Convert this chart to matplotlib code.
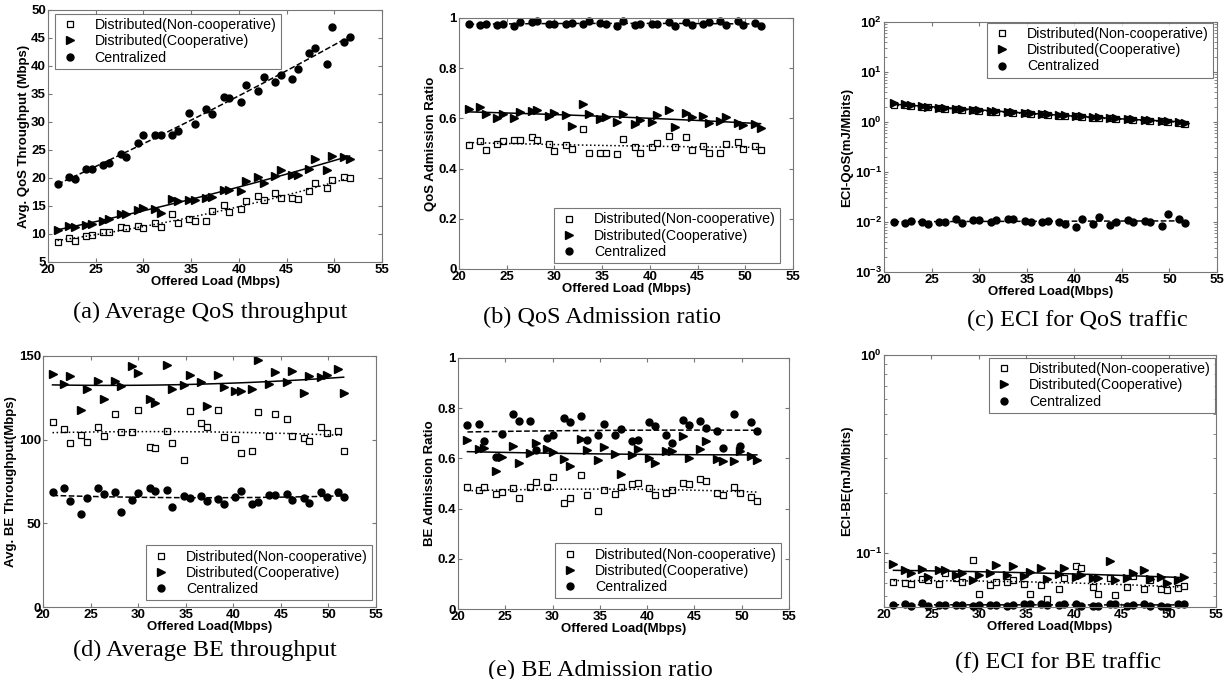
import numpy as np
import matplotlib
matplotlib.use('Agg')
import matplotlib.pyplot as plt

plt.rcParams['font.family'] = ['Liberation Sans', 'DejaVu Sans']

load = [21, 22.2, 22.8, 24, 24.6, 25.8, 26.4, 27.6, 28.2, 29.4, 30, 31.2, 31.8, 33, 33.6,
        34.8, 35.4, 36.6, 37.2, 38.4, 39, 40.2, 40.8, 42, 42.6, 43.8, 44.4, 45.6, 46.2,
        47.4, 48, 49.2, 49.8, 51, 51.6]

# (a) average QoS throughput
qos_thr_nc = [8.5, 9.2, 8.8, 9.65, 9.8, 10.4, 10.4, 11.3, 11.1, 11.4, 11.1, 12.0, 11.2, 13.6, 12.0,
              12.6, 12.3, 12.3, 14.1, 15.2, 14.0, 14.4, 15.85, 16.7, 16.1, 17.3, 16.45, 16.4, 16.3,
              17.7, 19.1, 18.2, 19.7, 20.1, 20.0]
qos_thr_co = [10.8, 11.5, 11.3, 11.6, 11.85, 12.3, 12.6, 13.6, 13.6, 14.2, 14.6, 14.5, 13.8, 16.2, 15.9,
              16.15, 16.0, 16.5, 16.6, 17.8, 17.8, 17.7, 19.4, 20.2, 19.1, 20.3, 21.4, 20.6, 20.6,
              21.6, 23.4, 21.4, 23.95, 23.8, 23.4]
qos_thr_ce = [19.0, 20.1, 19.8, 21.6, 21.6, 22.3, 22.6, 24.25, 23.8, 26.3, 27.7, 27.7, 27.6, 27.7, 28.4,
              31.6, 29.7, 32.4, 31.5, 34.4, 34.3, 33.6, 36.6, 35.5, 38.1, 37.2, 38.4, 37.6, 39.5,
              42.25, 43.3, 40.4, 46.9, 44.2, 45.2]

# (b) QoS admission ratio
qos_adm_nc = [0.494, 0.509, 0.474, 0.499, 0.509, 0.514, 0.513, 0.526, 0.514, 0.498, 0.471, 0.494, 0.477,
              0.556, 0.464, 0.464, 0.463, 0.460, 0.516, 0.487, 0.464, 0.485, 0.501, 0.530, 0.487, 0.527,
              0.474, 0.491, 0.464, 0.464, 0.499, 0.504, 0.477, 0.489, 0.473]
qos_adm_co = [0.637, 0.644, 0.619, 0.602, 0.619, 0.602, 0.626, 0.628, 0.633, 0.608, 0.620, 0.612, 0.568,
              0.656, 0.618, 0.599, 0.607, 0.584, 0.617, 0.579, 0.592, 0.585, 0.612, 0.633, 0.567, 0.620,
              0.605, 0.608, 0.582, 0.588, 0.604, 0.582, 0.572, 0.579, 0.560]
qos_adm_ce = [0.977, 0.973, 0.975, 0.971, 0.976, 0.967, 0.985, 0.983, 0.988, 0.976, 0.976, 0.976, 0.980,
              0.975, 0.989, 0.980, 0.977, 0.969, 0.987, 0.971, 0.976, 0.976, 0.976, 0.983, 0.969, 0.983,
              0.971, 0.977, 0.984, 0.987, 0.973, 0.987, 0.971, 0.981, 0.967]

# (c) ECI for QoS traffic
eci_qos_nc = [2.2, 2.15, 2.1, 2.0, 1.95, 1.87, 1.85, 1.78, 1.77, 1.7, 1.69, 1.6, 1.59, 1.55, 1.54,
              1.48, 1.46, 1.42, 1.4, 1.34, 1.32, 1.29, 1.27, 1.2, 1.22, 1.19, 1.17, 1.13, 1.11,
              1.08, 1.06, 1.03, 1.02, 0.97, 0.93]
eci_qos_co = [2.35, 2.25, 2.2, 2.05, 2.0, 1.92, 1.9, 1.83, 1.82, 1.75, 1.73, 1.65, 1.63, 1.6, 1.58,
              1.52, 1.5, 1.46, 1.43, 1.38, 1.35, 1.32, 1.3, 1.24, 1.25, 1.22, 1.2, 1.15, 1.14,
              1.1, 1.08, 1.05, 1.04, 0.99, 0.95]
eci_qos_ce = [0.0099, 0.0094, 0.0104, 0.0102, 0.0092, 0.0099, 0.0101, 0.0115, 0.0097, 0.011, 0.011,
              0.0102, 0.0108, 0.0116, 0.0113, 0.0106, 0.0102, 0.0099, 0.0105, 0.0099, 0.0093, 0.0079,
              0.0116, 0.0092, 0.0127, 0.0089, 0.0099, 0.011, 0.0099, 0.0105, 0.0099, 0.0082, 0.0143,
              0.0116, 0.0097]

# (d) average BE throughput
be_thr_nc = [110.3, 106.1, 98.1, 102.7, 98.7, 107.7, 102.3, 115.5, 104.7, 104.3, 117.7, 95.7, 95.3,
             105.3, 98.3, 87.6, 117.3, 109.7, 107.3, 117.7, 101.3, 100.1, 92.1, 93.3, 116.7, 101.9,
             115.5, 112.5, 102.1, 101.1, 99.1, 107.3, 104.1, 105.1, 93.3]
be_thr_co = [139.0, 133.0, 138.2, 117.5, 130.4, 135.2, 124.3, 135.2, 132.0, 144.0, 139.6, 124.3, 122.1,
             144.6, 130.4, 132.8, 138.8, 134.6, 120.3, 138.4, 131.6, 129.3, 129.1, 130.4, 147.4, 133.2,
             140.4, 134.4, 141.2, 127.7, 138.2, 137.6, 138.8, 142.4, 127.9]
be_thr_ce = [69.0, 71.0, 63.2, 55.8, 65.2, 71.2, 67.4, 68.8, 57.0, 64.2, 68.4, 71.2, 69.2, 70.0, 60.0,
             66.2, 65.2, 66.4, 63.2, 64.8, 61.8, 65.6, 69.6, 61.4, 62.8, 67.2, 67.2, 67.8, 64.2, 65.2,
             62.2, 68.6, 65.6, 68.8, 66.0]

# (e) BE admission ratio
be_adm_nc = [0.487, 0.473, 0.488, 0.458, 0.467, 0.482, 0.441, 0.488, 0.504, 0.487, 0.526, 0.421, 0.442,
             0.535, 0.453, 0.389, 0.475, 0.459, 0.485, 0.498, 0.501, 0.482, 0.453, 0.462, 0.473, 0.503,
             0.498, 0.518, 0.510, 0.463, 0.455, 0.486, 0.462, 0.446, 0.430]
be_adm_co = [0.675, 0.636, 0.640, 0.548, 0.604, 0.648, 0.582, 0.622, 0.661, 0.639, 0.625, 0.596, 0.568,
             0.677, 0.632, 0.595, 0.646, 0.619, 0.539, 0.612, 0.639, 0.602, 0.582, 0.628, 0.628, 0.688,
             0.602, 0.637, 0.671, 0.599, 0.588, 0.588, 0.628, 0.608, 0.592]
be_adm_ce = [0.732, 0.738, 0.668, 0.606, 0.697, 0.777, 0.748, 0.748, 0.635, 0.681, 0.693, 0.762, 0.745,
             0.770, 0.675, 0.692, 0.737, 0.695, 0.718, 0.668, 0.672, 0.745, 0.731, 0.693, 0.661, 0.754,
             0.732, 0.749, 0.720, 0.711, 0.641, 0.777, 0.648, 0.746, 0.711]

# (f) ECI for BE traffic
eci_be_nc = [0.0707, 0.0705, 0.0691, 0.0735, 0.0730, 0.0689, 0.0792, 0.0747, 0.0710, 0.0914, 0.0615,
             0.0684, 0.0707, 0.0707, 0.0730, 0.0689, 0.0615, 0.0684, 0.0582, 0.0655, 0.0744, 0.0853,
             0.0833, 0.0670, 0.0620, 0.0744, 0.0608, 0.0670, 0.0765, 0.0655, 0.0725, 0.0650, 0.0645,
             0.0662, 0.0678]
eci_be_co = [0.0880, 0.0820, 0.0792, 0.0827, 0.0753, 0.0814, 0.0814, 0.0774, 0.0792, 0.0724, 0.0774,
             0.0789, 0.0866, 0.0768, 0.0853, 0.0762, 0.0798, 0.0839, 0.0732, 0.0783, 0.0833, 0.0756,
             0.0768, 0.0744, 0.0744, 0.0907, 0.0724, 0.0747, 0.0792, 0.0814, 0.0738, 0.0753, 0.0705,
             0.0724, 0.0753]
eci_be_ce = [0.0545, 0.0548, 0.0537, 0.0558, 0.0535, 0.0543, 0.0545, 0.0543, 0.0543, 0.0539, 0.0543,
             0.0543, 0.0541, 0.0537, 0.0541, 0.0547, 0.0548, 0.0550, 0.0543, 0.0545, 0.0552, 0.0547,
             0.0539, 0.0539, 0.0537, 0.0548, 0.0548, 0.0539, 0.0543, 0.0547, 0.0539, 0.0537, 0.0533,
             0.0548, 0.0552]

labels = ['Distributed(Non-cooperative)', 'Distributed(Cooperative)', 'Centralized']
captions = ['(a) Average QoS throughput', '(b) QoS Admission ratio', '(c) ECI for QoS traffic',
            '(d) Average BE throughput', '(e) BE Admission ratio', '(f) ECI for BE traffic']

fig = plt.figure(figsize=(12.27, 6.79), dpi=100)

# axes boxes in pixels: left, top, right, bottom
boxes = [(48, 10, 382, 262), (459, 18, 793, 269), (884, 22, 1217, 272),
         (43, 356, 376, 607), (458, 358, 789, 609), (884, 355, 1216, 607)]
cap_pos = [(210, 312), (602, 317), (1077, 320), (205, 650), (600, 670), (1058, 662)]
W, H = 1227, 679

panels = [
    (qos_thr_nc, qos_thr_co, qos_thr_ce, 'Avg. QoS Throughput (Mbps)', 'Offered Load (Mbps)', (5, 50), 'linear'),
    (qos_adm_nc, qos_adm_co, qos_adm_ce, 'QoS Admission Ratio', 'Offered Load (Mbps)', (0, 1), 'linear'),
    (eci_qos_nc, eci_qos_co, eci_qos_ce, 'ECI-QoS(mJ/Mbits)', 'Offered Load(Mbps)', (1e-3, 1e2), 'log'),
    (be_thr_nc, be_thr_co, be_thr_ce, 'Avg. BE Throughput(Mbps)', 'Offered Load(Mbps)', (0, 150), 'linear'),
    (be_adm_nc, be_adm_co, be_adm_ce, 'BE Admission Ratio', 'Offered Load(Mbps)', (0, 1), 'linear'),
    (eci_be_nc, eci_be_co, eci_be_ce, 'ECI-BE(mJ/Mbits)', 'Offered Load(Mbps)', (0.053, 1), 'log'),
]
# legend anchor (pixels, corner) per panel
leg_anchor = [('upper left', 55, 14), ('lower right', 780, 263), ('upper right', 1213, 23),
              ('lower right', 372, 600), ('lower right', 781, 598), ('upper right', 1215, 358)]

xfit = np.linspace(min(load), max(load), 100)
lx = np.array(load)

for i, (nc, co, ce, ylab, xlab, ylim, scale) in enumerate(panels):
    l, t, r, b = boxes[i]
    ax = fig.add_axes([l / W, 1 - b / H, (r - l) / W, (b - t) / H])
    ax.set_yscale(scale)

    h1, = ax.plot(load, nc, 's', mfc='white', mec='black', ms=4.5, mew=0.9, ls='none', clip_on=False)
    h2, = ax.plot(load, co, '>', color='black', ms=6, ls='none', clip_on=False)
    h3, = ax.plot(load, ce, 'o', color='black', ms=5, ls='none', clip_on=False)

    # quadratic trend line for each series
    for vals, ls in [(nc, ':'), (co, '-'), (ce, '--')]:
        p = np.polyfit(lx, vals, 2)
        ax.plot(xfit, np.polyval(p, xfit), color='black', ls=ls, lw=1.1)

    ax.set_xlim(20, 55)
    ax.set_ylim(*ylim)
    ax.set_xticks(range(20, 56, 5))
    if scale == 'linear':
        if ylim == (0, 1):
            ax.set_yticks([0, 0.2, 0.4, 0.6, 0.8, 1])
            ax.set_yticklabels(['0', '0.2', '0.4', '0.6', '0.8', '1'])
        elif ylim == (0, 150):
            ax.set_yticks([0, 50, 100, 150])
        else:
            ax.set_yticks(range(5, 51, 5))

    ax.tick_params(direction='in', top=True, right=True, length=3, color='#777777',
                   labelsize=9.5, pad=1.5, which='both')
    ax.tick_params(which='minor', length=2)
    for lab in ax.get_xticklabels() + ax.get_yticklabels():
        lab.set_fontweight('bold')
    for s in ax.spines.values():
        s.set_color('#777777')
        s.set_linewidth(0.8)

    ax.set_xlabel(xlab, fontsize=9.5, fontweight='bold', labelpad=0)
    ax.set_ylabel(ylab, fontsize=9.5, fontweight='bold', labelpad=1)

    loc, px, py = leg_anchor[i]
    leg = ax.legend([h1, h2, h3], labels, loc=loc, bbox_to_anchor=(px / W, 1 - py / H),
                    bbox_transform=fig.transFigure, fontsize=10.2, frameon=True, fancybox=False,
                    borderpad=0.3, labelspacing=0.15, handletextpad=1.0, handlelength=1.5,
                    borderaxespad=0)
    leg.get_frame().set_edgecolor('#555555')
    leg.get_frame().set_linewidth(0.8)

    cx, cy = cap_pos[i]
    fig.text(cx / W, 1 - cy / H, captions[i], ha='center', va='center',
             fontsize=17.5, family='Liberation Serif')

plt.savefig('out.png', dpi=100)
